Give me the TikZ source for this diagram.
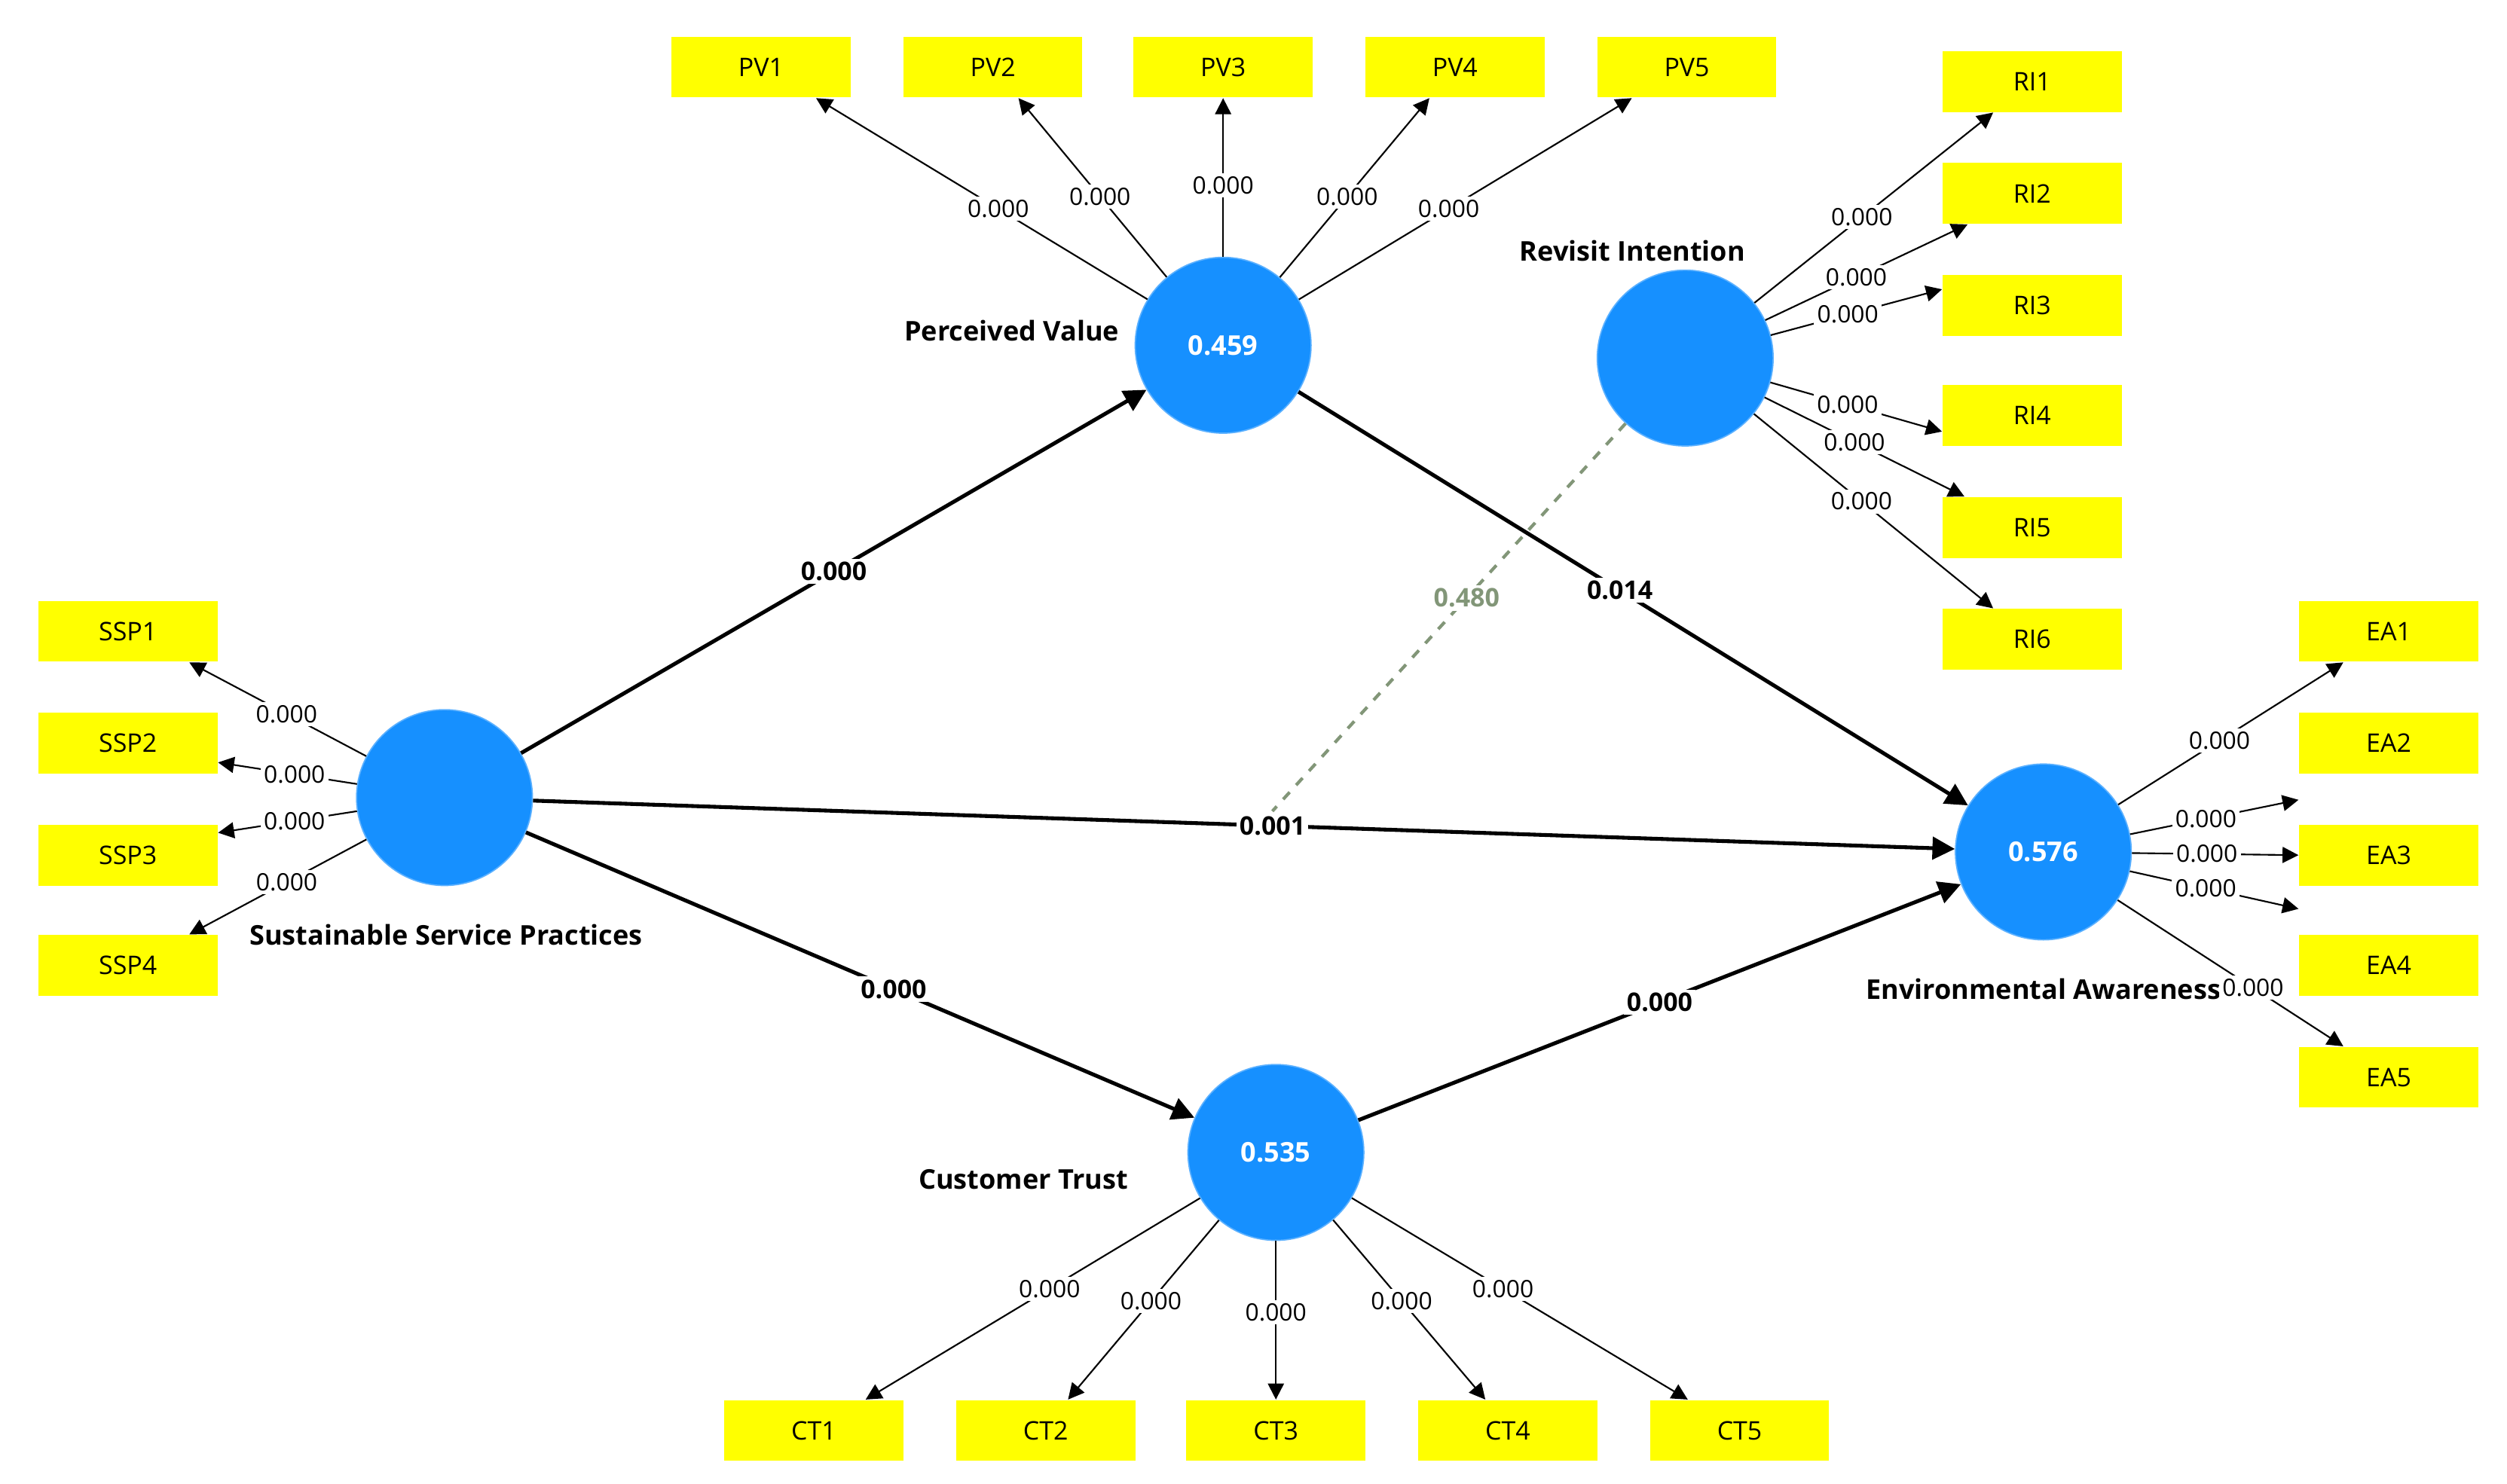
\documentclass[tikz,border=0pt]{standalone}
\usepackage{fontspec}
\setmainfont{Open Sans}
\usetikzlibrary{arrows.meta}
\definecolor{lv}{RGB}{22,144,255}
\definecolor{ind}{RGB}{255,255,0}
\definecolor{modc}{RGB}{130,150,120}
\begin{document}
\begin{tikzpicture}[x=0.5pt,y=-0.5pt,
 lat/.style={circle,fill=lv,draw=lv!70!white,minimum size=55pt,inner sep=0pt,text=white,font=\bfseries\fontsize{8.5}{10}\selectfont},
 box/.style={rectangle,fill=ind,minimum width=56pt,minimum height=19pt,inner sep=0pt,font=\fontsize{8}{10}\selectfont},
 il/.style={-{Triangle[length=5pt,width=5pt]},line width=0.5pt},
 sl/.style={-{Triangle[length=7pt,width=7pt]},line width=1.2pt},
 lab/.style={fill=white,inner sep=1pt,font=\fontsize{7.5}{9}\selectfont},
 slab/.style={fill=white,inner sep=1pt,font=\bfseries\fontsize{8}{10}\selectfont},
 nm/.style={font=\bfseries\fontsize{8.5}{10}\selectfont}]
\useasboundingbox (0,0) rectangle (1568,928);
\node[lat] (pv) at (765,216) {0.459};
\node[lat] (ri) at (1054,224) {};
\node[lat] (ssp) at (278,499) {};
\node[lat] (ea) at (1278,533) {0.576};
\node[lat] (ct) at (798,721) {0.535};
\foreach \i/\x in {1/476,2/621,3/765,4/910,5/1055} \node[box] (pv\i) at (\x,42) {PV\i};
\foreach \i/\y in {1/51,2/121,3/191,4/260,5/330,6/400} \node[box] (ri\i) at (1271,\y) {RI\i};
\foreach \i/\y in {1/395,2/465,3/535,4/604} \node[box] (ssp\i) at (80,\y) {SSP\i};
\foreach \i/\y in {1/395,2/465,3/535,4/604,5/674} \node[box] (ea\i) at (1494,\y) {EA\i};
\foreach \i/\x in {1/509,2/654,3/798,4/943,5/1088} \node[box] (ct\i) at (\x,895) {CT\i};
% names
\node[nm,anchor=east] at (707,207) {Perceived Value};
\node[nm] at (1021,157) {Revisit Intention};
\node[nm] at (279,585) {Sustainable Service Practices};
\node[nm] (ean) at (1278,619) {Environmental Awareness};
\node[nm] at (640,738) {Customer Trust};
% indicators
\draw[il] (pv) -- node[lab,pos=0.45]{0.000} ([xshift=-11pt]pv1.south east);
\draw[il] (pv) -- node[lab,pos=0.45]{0.000} ([xshift=8pt]pv2.south);
\draw[il] (pv) -- node[lab,pos=0.45]{0.000} (pv3.south);
\draw[il] (pv) -- node[lab,pos=0.45]{0.000} ([xshift=-8pt]pv4.south);
\draw[il] (pv) -- node[lab,pos=0.45]{0.000} ([xshift=11pt]pv5.south west);
\draw[il] (ri) -- node[lab,pos=0.45]{0.000} ([xshift=16pt]ri1.south west);
\draw[il] (ri) -- node[lab,pos=0.45]{0.000} ([xshift=8pt]ri2.south west);
\draw[il] (ri) -- node[lab,pos=0.45]{0.000} ([yshift=5pt]ri3.west);
\draw[il] (ri) -- node[lab,pos=0.45]{0.000} ([yshift=-5pt]ri4.west);
\draw[il] (ri) -- node[lab,pos=0.45]{0.000} ([xshift=7pt]ri5.north west);
\draw[il] (ri) -- node[lab,pos=0.45]{0.000} ([xshift=16pt]ri6.north west);
\draw[il] (ssp) -- node[lab,pos=0.45]{0.000} ([xshift=-9pt]ssp1.south east);
\draw[il] (ssp) -- node[lab,pos=0.45]{0.000} ([yshift=-6pt]ssp2.east);
\draw[il] (ssp) -- node[lab,pos=0.45]{0.000} ([yshift=7pt]ssp3.east);
\draw[il] (ssp) -- node[lab,pos=0.45]{0.000} ([xshift=-9pt]ssp4.north east);
\draw[il] (ea) -- node[lab,pos=0.45]{0.000} ([xshift=14pt]ea1.south west);
\draw[il] (ea) -- node[lab,pos=0.45]{0.000} ([yshift=-8pt]ea2.south west);
\draw[il] (ea) -- node[lab,pos=0.45]{0.000} (ea3.west);
\draw[il] (ea) -- node[lab,pos=0.45]{0.000} ([yshift=8pt]ea4.north west);
\draw[il] (ea) -- node[lab,pos=0.6]{0.000} ([xshift=14pt]ea5.north west);
\draw[il] (ct) -- node[lab,pos=0.45]{0.000} ([xshift=-12pt]ct1.north east);
\draw[il] (ct) -- node[lab,pos=0.45]{0.000} ([xshift=7pt]ct2.north);
\draw[il] (ct) -- node[lab,pos=0.45]{0.000} (ct3.north);
\draw[il] (ct) -- node[lab,pos=0.45]{0.000} ([xshift=-7pt]ct4.north);
\draw[il] (ct) -- node[lab,pos=0.45]{0.000} ([xshift=12pt]ct5.north west);
% structural
\draw[sl] (ssp) -- node[slab]{0.000} (pv);
\draw[sl] (pv) -- node[slab,pos=0.48]{0.014} (ea);
\draw[sl] (ssp) -- node[slab,pos=0.52] (m) {0.001} (ea);
\draw[sl] (ssp) -- node[slab,pos=0.55]{0.000} (ct);
\draw[sl] (ct) -- node[slab]{0.000} (ea);
\draw[modc,dashed,line width=1pt] (ri) -- node[slab,text=modc,pos=0.45]{0.480} (m.north);
\end{tikzpicture}
\end{document}
